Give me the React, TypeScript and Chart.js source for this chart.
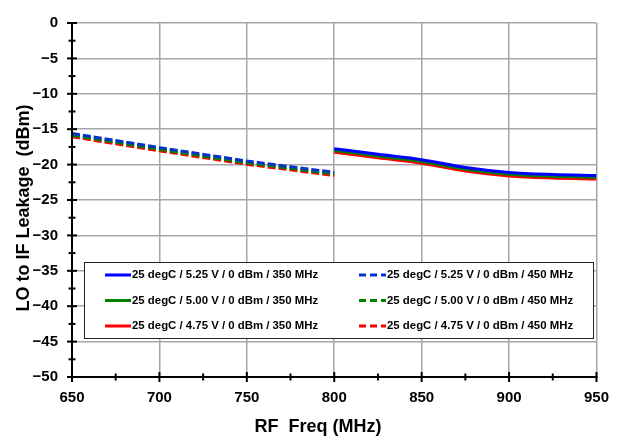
import React, { useEffect, useRef } from 'react';
import { Chart, registerables } from 'chart.js';
Chart.register(...registerables);

// RF frequency (MHz)
const freqIF450 = [650, 700, 750, 800];
const freqIF350 = [800, 825, 850, 875, 900, 925, 950];

// LO to IF leakage (dBm)
const leak525_450 = [-15.6, -17.6, -19.5, -21.1];
const leak500_450 = [-15.85, -17.85, -19.75, -21.35];
const leak475_450 = [-16.05, -18.05, -19.95, -21.55];
const leak525_350 = [-17.75, -18.55, -19.3, -20.4, -21.1, -21.4, -21.55];
const leak500_350 = [-18.0, -18.8, -19.55, -20.65, -21.35, -21.65, -21.8];
const leak475_350 = [-18.25, -19.05, -19.8, -20.9, -21.6, -21.9, -22.05];

const labelsSolid = [
  '25 degC / 5.25 V / 0 dBm / 350 MHz',
  '25 degC / 5.00 V / 0 dBm / 350 MHz',
  '25 degC / 4.75 V / 0 dBm / 350 MHz',
];
const labelsDashed = [
  '25 degC / 5.25 V / 0 dBm / 450 MHz',
  '25 degC / 5.00 V / 0 dBm / 450 MHz',
  '25 degC / 4.75 V / 0 dBm / 450 MHz',
];

const xTicks = [650, 700, 750, 800, 850, 900, 950];
const yTicks = [0, -5, -10, -15, -20, -25, -30, -35, -40, -45, -50];
const xTitle = 'RF  Freq (MHz)';
const yTitle = 'LO to IF Leakage  (dBm)';

const solidColors = ['#0000ff', '#008000', '#ff0000'];
const dashedColors = ['#0033cc', '#008000', '#ff0000'];
const FONT = 'Arial, "Liberation Sans", sans-serif';
const DASH = [8, 3];

const toPts = (xs: number[], ys: number[]) => xs.map((x, i) => ({ x, y: ys[i] }));

const decor = {
  id: 'decor',
  afterDatasetsDraw(chart: any) {
    const { ctx, chartArea, scales } = chart;
    const { left, right, top, bottom } = chartArea;
    const xs = scales.x;
    const ys = scales.y;
    ctx.save();

    // legend box
    const bx0 = 84, by0 = 262, bx1 = 593, by1 = 338;
    ctx.fillStyle = '#ffffff';
    ctx.fillRect(bx0, by0, bx1 - bx0, by1 - by0);
    ctx.strokeStyle = '#222222';
    ctx.lineWidth = 1;
    ctx.strokeRect(bx0 + 0.5, by0 + 0.5, bx1 - bx0, by1 - by0);
    const rows = [275, 300.5, 326];
    ctx.font = `bold 11.4px ${FONT}`;
    ctx.textBaseline = 'middle';
    ctx.textAlign = 'left';
    rows.forEach((ry, i) => {
      ctx.lineWidth = 3;
      ctx.setLineDash([]);
      ctx.strokeStyle = solidColors[i];
      ctx.beginPath();
      ctx.moveTo(105, ry);
      ctx.lineTo(131, ry);
      ctx.stroke();
      ctx.fillStyle = '#000';
      ctx.fillText(labelsSolid[i], 132, ry);
      ctx.strokeStyle = dashedColors[i];
      ctx.setLineDash([7, 4]);
      ctx.beginPath();
      ctx.moveTo(359, ry);
      ctx.lineTo(386, ry);
      ctx.stroke();
      ctx.setLineDash([]);
      ctx.fillText(labelsDashed[i], 387, ry);
    });

    // axes lines
    ctx.strokeStyle = '#000';
    ctx.lineWidth = 2;
    ctx.beginPath();
    ctx.moveTo(left, top);
    ctx.lineTo(left, bottom + 1);
    ctx.moveTo(left - 1, bottom);
    ctx.lineTo(right + 1, bottom);
    ctx.stroke();

    // tick marks crossing axes
    for (let v = 0; v >= -50; v -= 2.5) {
      const py = ys.getPixelForValue(v);
      const major = Math.abs(v % 5) < 1e-6;
      const l = major ? 5 : 3.5;
      ctx.beginPath();
      ctx.moveTo(left - l, py);
      ctx.lineTo(left + l, py);
      ctx.stroke();
    }
    for (let v = 650; v <= 950; v += 25) {
      const px = xs.getPixelForValue(v);
      const major = v % 50 === 0;
      const l = major ? 5 : 3.5;
      ctx.beginPath();
      ctx.moveTo(px, bottom - l);
      ctx.lineTo(px, bottom + l);
      ctx.stroke();
    }

    // axis titles
    ctx.fillStyle = '#000';
    ctx.font = `bold 18px ${FONT}`;
    ctx.textAlign = 'center';
    ctx.textBaseline = 'middle';
    ctx.fillText(xTitle, 318, 427);
    ctx.translate(24, 208);
    ctx.rotate(-Math.PI / 2);
    ctx.fillText(yTitle, 0, 0);
    ctx.restore();
  },
};

export default function App() {
  const ref = useRef<HTMLCanvasElement>(null);
  useEffect(() => {
    if (!ref.current) return;
    const dsDashed = [leak525_450, leak500_450, leak475_450].map((d, i) => ({
      label: labelsDashed[i],
      data: toPts(freqIF450, d),
      borderColor: dashedColors[i],
      backgroundColor: dashedColors[i],
      borderWidth: 3,
      borderDash: DASH,
      pointRadius: 0,
      fill: false,
    }));
    const dsSolid = [leak525_350, leak500_350, leak475_350].map((d, i) => ({
      label: labelsSolid[i],
      data: toPts(freqIF350, d),
      borderColor: solidColors[i],
      backgroundColor: solidColors[i],
      borderWidth: 3,
      pointRadius: 0,
      cubicInterpolationMode: 'monotone' as const,
      fill: false,
    }));
    const chart = new Chart(ref.current, {
      type: 'line',
      data: { datasets: [...dsDashed, ...dsSolid] as any },
      options: {
        animation: false,
        responsive: false,
        events: [],
        layout: { padding: { left: 0, right: 15, top: 15, bottom: 0 } },
        plugins: { legend: { display: false }, tooltip: { enabled: false } },
        scales: {
          x: {
            type: 'linear',
            min: 650,
            max: 950,
            afterBuildTicks: (s: any) => {
              s.ticks = xTicks.map((v) => ({ value: v }));
            },
            afterFit: (s: any) => {
              s.height = 61;
            },
            border: { display: false },
            grid: { color: '#a6a6a6', lineWidth: 1.5, drawTicks: false },
            ticks: {
              padding: 12,
              color: '#000',
              font: { family: FONT, size: 15, weight: 'bold' },
              maxRotation: 0,
            },
          },
          y: {
            type: 'linear',
            min: -50,
            max: 0,
            afterBuildTicks: (s: any) => {
              s.ticks = yTicks.map((v) => ({ value: v }));
            },
            afterFit: (s: any) => {
              s.width = 72;
            },
            border: { display: false },
            grid: { color: '#a6a6a6', lineWidth: 1.5, drawTicks: false },
            ticks: {
              padding: 14,
              color: '#000',
              font: { family: FONT, size: 15, weight: 'bold' },
              callback: (v: any) => (Number(v) < 0 ? '\u2212' + Math.abs(Number(v)) : String(v)),
            },
          },
        },
      },
      plugins: [decor],
    });
    return () => chart.destroy();
  }, []);
  return (
    <div style={{ position: 'fixed', left: 0, top: 0, width: 621, height: 438, background: '#fff' }}>
      <canvas ref={ref} width={621} height={438} style={{ display: 'block' }} />
    </div>
  );
}
